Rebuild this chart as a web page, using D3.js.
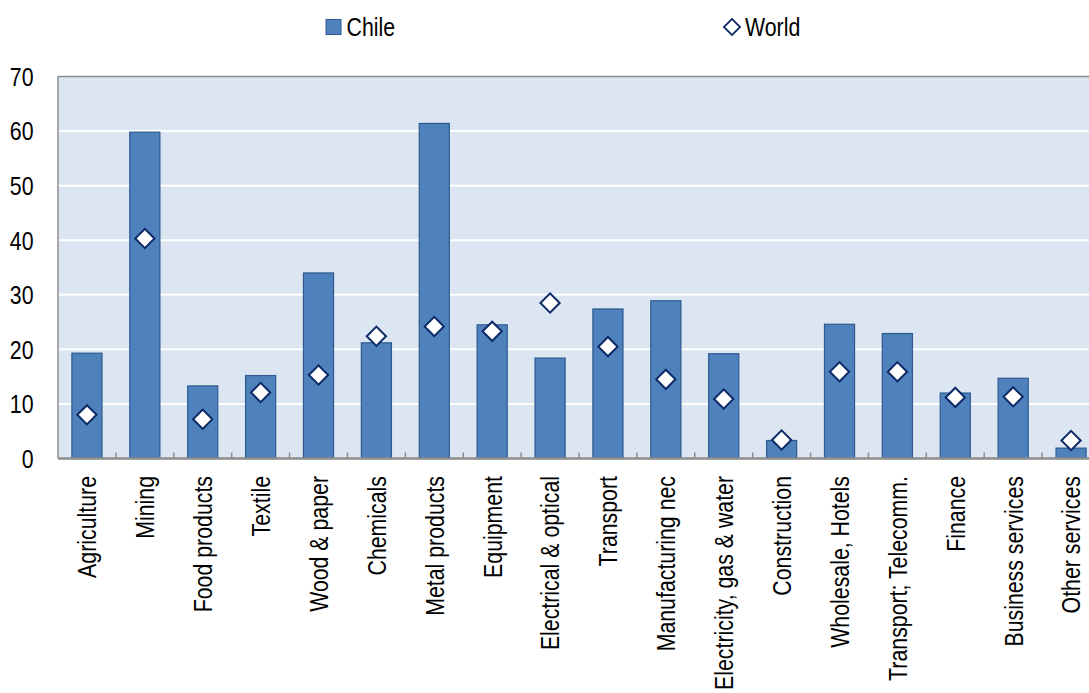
<!DOCTYPE html>
<html><head><meta charset="utf-8">
<script src="https://cdn.jsdelivr.net/npm/d3@7"></script>
<style>
html,body{margin:0;padding:0;background:#fff;overflow:hidden}
text{font-family:"Liberation Sans",Arial,sans-serif;fill:#000}
</style></head>
<body>
<svg id="chart" width="1089" height="693"></svg>
<script>
const categories = ["Agriculture","Mining","Food products","Textile","Wood & paper","Chemicals","Metal products","Equipment","Electrical & optical","Transport","Manufacturing nec","Electricity, gas & water","Construction","Wholesale, Hotels","Transport; Telecomm.","Finance","Business services","Other services"];
const chileValues = [19.3, 59.8, 13.3, 15.2, 34.0, 21.2, 61.4, 24.5, 18.4, 27.4, 28.9, 19.2, 3.3, 24.6, 22.9, 12.0, 14.7, 1.9];
const worldValues = [8.0, 40.3, 7.2, 12.1, 15.3, 22.4, 24.2, 23.3, 28.5, 20.5, 14.5, 10.9, 3.4, 15.9, 15.9, 11.2, 11.3, 3.3];
const yTicks = [0, 10, 20, 30, 40, 50, 60, 70];
const seriesNames = ["Chile", "World"];

const svg = d3.select("#chart");
const L = 58, R = 1100, T = 76.5, B = 458.5;
const FS = 26, SX = 0.82;
const barFill = "#4f81bd", barStroke = "#2d5a8e", diaStroke = "#0c2a66";

const x = d3.scaleBand().domain(categories).range([L, R]).paddingInner(0.48).paddingOuter(0.24);
const y = d3.scaleLinear().domain([0, 70]).range([B, T]);

svg.append("rect").attr("x", L).attr("y", T).attr("width", R - L).attr("height", B - T).attr("fill", "#dce6f2");

svg.append("g").selectAll("line").data(yTicks.filter(d => d > 0 && d < 70)).join("line")
  .attr("x1", L).attr("x2", R).attr("y1", d => y(d)).attr("y2", d => y(d))
  .attr("stroke", "#fff").attr("stroke-width", 2);

svg.append("line").attr("x1", L).attr("x2", R).attr("y1", T).attr("y2", T).attr("stroke", "#8c8c8c").attr("stroke-width", 1.5);
svg.append("line").attr("x1", L).attr("x2", L).attr("y1", T).attr("y2", B).attr("stroke", "#8c8c8c").attr("stroke-width", 1.5);

svg.append("g").selectAll("rect").data(categories).join("rect")
  .attr("x", (d) => x(d)).attr("width", x.bandwidth())
  .attr("y", (d, i) => y(chileValues[i])).attr("height", (d, i) => y(0) - y(chileValues[i]))
  .attr("fill", barFill).attr("stroke", barStroke).attr("stroke-width", 1.2);

const step = x.step();
svg.append("g").selectAll("line").data(d3.range(1, categories.length + 1)).join("line")
  .attr("x1", i => L + i * step).attr("x2", i => L + i * step)
  .attr("y1", B).attr("y2", B - 6)
  .attr("stroke", "#8c8c8c").attr("stroke-width", 1.5);

svg.append("line").attr("x1", L).attr("x2", R).attr("y1", B).attr("y2", B).attr("stroke", "#8c8c8c").attr("stroke-width", 2.5);

const dia = d3.symbol(d3.symbolSquare, 185);
svg.append("g").selectAll("path").data(categories).join("path")
  .attr("d", dia)
  .attr("transform", (d, i) => `translate(${x(d) + x.bandwidth() / 2},${y(worldValues[i])}) rotate(45)`)
  .attr("fill", "#fff").attr("stroke", diaStroke).attr("stroke-width", 2);

svg.append("g").selectAll("g").data(yTicks).join("g")
  .attr("transform", d => `translate(33.5,${y(d)}) scale(${SX},1)`)
  .append("text").attr("text-anchor", "end").attr("dy", "0.36em")
  .style("font-size", FS + "px").text(d => d);

svg.append("g").selectAll("g").data(categories).join("g")
  .attr("transform", d => `translate(${x(d) + x.bandwidth() / 2},476) rotate(-90) scale(${SX},1)`)
  .append("text").attr("text-anchor", "end").attr("dy", "0.36em")
  .style("font-size", FS + "px").text(d => d);

const lg = svg.append("g");
lg.append("rect").attr("x", 326).attr("y", 19.5).attr("width", 15).attr("height", 15)
  .attr("fill", barFill).attr("stroke", barStroke).attr("stroke-width", 1);
lg.append("g").attr("transform", `translate(346.5,35.5) scale(${SX},1)`)
  .append("text").style("font-size", FS + "px").text(seriesNames[0]);
lg.append("path").attr("d", d3.symbol(d3.symbolSquare, 130))
  .attr("transform", "translate(732,27) rotate(45)")
  .attr("fill", "#fff").attr("stroke", diaStroke).attr("stroke-width", 1.8);
lg.append("g").attr("transform", `translate(745,35.5) scale(${SX},1)`)
  .append("text").style("font-size", FS + "px").text(seriesNames[1]);
</script>
</body></html>
